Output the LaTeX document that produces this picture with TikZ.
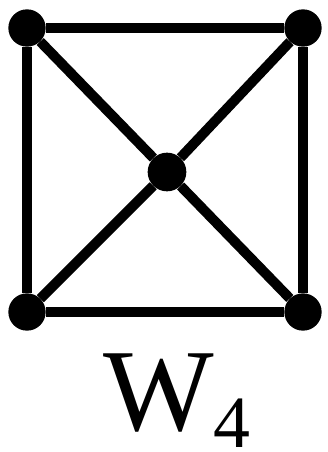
\documentclass[tikz,border=0pt]{standalone}
\usepackage{fontspec}
\setmainfont{Liberation Serif}

\begin{document}
\begin{tikzpicture}[x=0.03cm,y=-0.03cm,
    vertex/.style={circle, fill=black, inner sep=0pt, minimum size=1.12cm},
    edge/.style={line width=8.5pt}]
    \useasboundingbox (0,0) rectangle (327,452);

    % Vertices
    \node[vertex] (tl) at (27,28) {};
    \node[vertex] (tr) at (303,28) {};
    \node[vertex] (bl) at (27,312) {};
    \node[vertex] (br) at (303,312) {};
    \node[vertex, minimum size=1.16cm] (c) at (167,172) {};

    % Rim
    \draw[edge] (tl) -- (tr);
    \draw[edge] (tr) -- (br);
    \draw[edge] (br) -- (bl);
    \draw[edge] (bl) -- (tl);

    % Spokes
    \foreach \v in {tl,tr,bl,br}
        \draw[edge] (c) -- (\v);

    % Label
    \node[anchor=base west, inner sep=0pt] (name) at (103,430)
        {\fontsize{100pt}{100pt}\selectfont W\raisebox{-15pt}{\fontsize{63pt}{63pt}\selectfont 4}};
\end{tikzpicture}
\end{document}
